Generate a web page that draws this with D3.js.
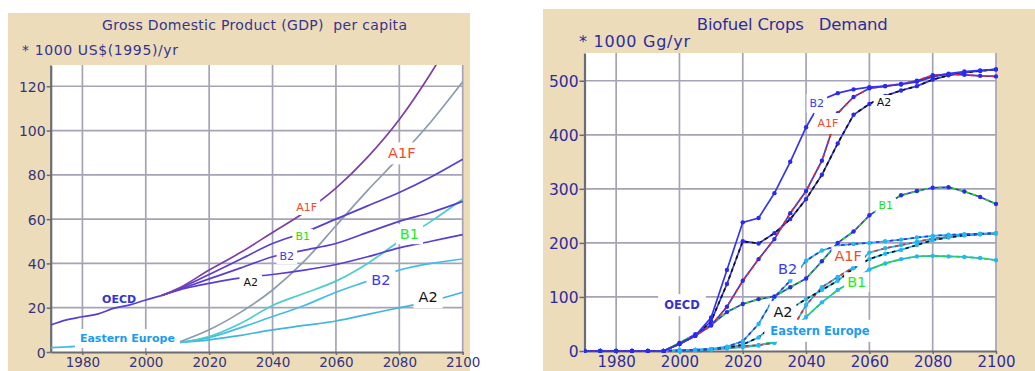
<!DOCTYPE html>
<html><head><meta charset="utf-8">
<script src="https://cdn.jsdelivr.net/npm/d3@7"></script>
<style>
body{margin:0;background:#fff}
svg{display:block}
text{font-family:"DejaVu Sans",Verdana,sans-serif}
</style>
</head><body>
<svg id="chart" width="1035" height="371"></svg>
<script>
// ---------- GDP per capita (1000 US$(1995)/yr) ----------
const gdpHistYears = [1970, 1975, 1980, 1985, 1990, 1995, 2000, 2005];
const oecdGdpHist = [12.2, 14.5, 15.9, 17.2, 19.8, 21.3, 23.5, 25.5];
const oecdScenYears = [2005, 2010, 2020, 2030, 2040, 2050, 2060, 2070, 2080, 2090, 2100];
const oecdGdpA1F = [25.5, 28.5, 37, 45, 54, 63, 74, 88, 105, 126, 150];
const oecdGdpB1  = [25.5, 28.3, 35, 42, 49, 54, 60, 66, 72, 79, 87];
const oecdGdpB2  = [25.5, 28.0, 33, 38, 43, 46, 49, 54, 59, 63, 68];
const oecdGdpA2  = [25.5, 27.8, 31, 33.5, 35, 37, 39.5, 43, 47, 50, 53];

const eeHistYears = [1970, 1975, 1980, 1985, 1990, 1995, 2000, 2005, 2010];
const eeGdpHist = [2.0, 2.3, 2.8, 3.2, 3.0, 2.8, 3.0, 3.5, 4.2];
const eeScenYears = [2010, 2020, 2030, 2040, 2050, 2060, 2070, 2080, 2090, 2100];
const eeGdpA1F = [4.2, 10, 18, 28, 41, 57, 73, 88, 104, 122];
const eeGdpB1  = [4.2, 7, 13, 21, 26.5, 32, 40, 50, 59, 69];
const eeGdpB2  = [4.2, 6.5, 11, 16, 21, 27, 32, 37, 40, 42];
const eeGdpA2  = [4.2, 5.5, 7.5, 10, 12, 14, 17, 20, 23, 27];

const gdpYTicks = [0, 20, 40, 60, 80, 100, 120];
const xTicks = [1980, 2000, 2020, 2040, 2060, 2080, 2100];

// ---------- Biofuel crops demand (1000 Gg/yr), 5-year steps ----------
const bioYears = d3.range(1970, 2101, 5);
const oecdBioB2  = [0,0,0,0,0,0, 13, 28, 62, 150, 238, 246, 292, 350, 414, 465, 477, 484, 488, 490, 493, 498, 507, 513, 517, 519, 521];
const oecdBioA1F = [0,0,0,0,0,0, 13, 28, 47, 82, 130, 170, 207, 255, 296, 352, 440, 470, 486, 490, 494, 500, 510, 512, 511, 509, 508];
const oecdBioA2  = [0,0,0,0,0,0, 13, 28, 55, 124, 203, 199, 218, 244, 281, 326, 384, 437, 457, 472, 482, 490, 502, 510, 515, 518, 521];
const oecdBioB1  = [0,0,0,0,0,0, 15, 31, 48, 72, 87, 96, 101, 118, 134, 166, 200, 221, 251, 270, 288, 296, 302, 303, 295, 285, 272];
const eeBioB2  = [0,0,0,0,0,0, 1, 2, 4, 8, 18, 50, 100, 130, 167, 186, 195, 198, 200, 203, 206, 210, 213, 215, 216, 217, 218];
const eeBioA2  = [0,0,0,0,0,0, 1, 2, 3, 6, 12, 25, 50, 78, 96, 113, 130, 153, 170, 180, 187, 196, 205, 210, 214, 216, 218];
const eeBioA1F = [0,0,0,0,0,0, 1, 2, 3, 5, 9, 11, 15, 35, 85, 118, 137, 155, 182, 190, 196, 202, 208, 211, 214, 216, 217];
const eeBioB1  = [0,0,0,0,0,0, 1, 2, 3, 5, 7, 10, 18, 35, 63, 90, 113, 130, 151, 162, 170, 175, 176, 175, 174, 172, 168];
const bioYTicks = [0, 100, 200, 300, 400, 500];

const scenColor = {A1F: "#ee2a1e", A2: "#111111", B1: "#22dd22", B2: "#3434ee"};
const regionColor = {OECD: "#3434ee", EE: "#22b4ee"};

const svg = d3.select("#chart");
const zip = (xs, ys) => xs.map((x, i) => [x, ys[i]]);

function panel(o) {
  const g = svg.append("g");
  g.append("rect").attr("x", o.bg[0]).attr("y", o.bg[1]).attr("width", o.bg[2]).attr("height", o.bg[3]).attr("fill", "#eddcb9");
  const x = d3.scaleLinear().domain([1970, 2100]).range([o.left, o.right]);
  const y = d3.scaleLinear().domain([0, o.ymax]).range([o.bottom, o.top]);
  g.append("rect").attr("x", o.left).attr("y", o.top).attr("width", o.right - o.left).attr("height", o.bottom - o.top).attr("fill", "#fff");
  // grid
  const grid = g.append("g").attr("stroke", "#a4a4b6").attr("stroke-width", 1.7);
  grid.selectAll("line.v").data(xTicks).join("line")
    .attr("x1", d => x(d)).attr("x2", d => x(d)).attr("y1", o.top).attr("y2", o.bottom);
  grid.selectAll("line.h").data(o.yTicks.filter(d => d > 0)).join("line")
    .attr("x1", o.left).attr("x2", o.right).attr("y1", d => y(d)).attr("y2", d => y(d));
  // axes
  const ya = g.append("g").attr("transform", `translate(${o.left},0)`)
    .call(d3.axisLeft(y).tickValues(o.yTicks).tickSize(o.tick).tickPadding(o.pad).tickSizeOuter(0));
  const xa = g.append("g").attr("transform", `translate(0,${o.bottom})`)
    .call(d3.axisBottom(x).tickValues(xTicks).tickFormat(d3.format("d")).tickSize(3).tickSizeOuter(0));
  [ya, xa].forEach(a => {
    a.select(".domain").attr("stroke", "#6b6b74").attr("stroke-width", 2.2);
    a.selectAll(".tick line").attr("stroke", "#6b6b74").attr("stroke-width", 1.5);
    a.selectAll("text").attr("fill", o.tickColor).attr("font-size", o.tickSize)
      .attr("font-family", '"DejaVu Sans",Verdana,sans-serif');
  });
  xa.selectAll("text").attr("dy", null).attr("y", o.xLabelY).attr("font-size", o.xTickSize);
  ya.selectAll("text").attr("dy", "0.36em");
  // titles
  g.append("text").attr("x", o.titleX).attr("y", 30).attr("text-anchor", "middle")
    .style("white-space", "pre").attr("xml:space", "preserve")
    .attr("fill", o.titleColor).attr("font-size", o.titleSize).attr("textLength", o.titleLen)
    .text(o.title);
  g.append("text").attr("x", o.unitX).attr("y", o.unitY).attr("fill", o.titleColor)
    .attr("font-size", o.unitSize).attr("textLength", o.unitLen).text(o.unit);
  // clip region for series
  const cid = "clip" + o.id;
  svg.append("clipPath").attr("id", cid).append("rect")
    .attr("x", o.left).attr("y", o.top).attr("width", o.right - o.left + 2).attr("height", o.bottom - o.top + 2);
  const series = g.append("g").attr("clip-path", `url(#${cid})`);
  return {g, x, y, series};
}

function addLabels(p, list) {
  const lg = p.g.append("g");
  list.forEach(l => {
    const wrap = lg.append("g");
    const rect = wrap.append("rect").attr("fill", "#fff");
    const t = wrap.append("text").attr("x", p.x(l.at[0])).attr("y", p.y(l.at[1]))
      .attr("text-anchor", "middle").attr("dy", "0.36em")
      .attr("font-family", '"Liberation Sans",Arial,sans-serif')
      .attr("font-size", l.size).attr("font-weight", l.bold ? "bold" : "normal")
      .attr("fill", l.color).text(l.text);
    if (l.box !== false) {
      const b = t.node().getBBox();
      const px = l.padX == null ? 4 : l.padX, py = l.padY == null ? 1 : l.padY;
      rect.attr("x", b.x - px).attr("y", b.y - py).attr("width", b.width + 2 * px).attr("height", b.height + 2 * py);
    } else rect.remove();
  });
}

// ---------------- left panel: GDP ----------------
const L = panel({
  id: "gdp", bg: [8, 13, 462, 358], left: 50.7, right: 462.7, top: 65, bottom: 352, ymax: 129.6,
  yTicks: gdpYTicks, tick: 4, pad: 1, tickColor: "#34347e", tickSize: 14, xTickSize: 13.5, xLabelY: 15,
  title: "Gross Domestic Product (GDP)  per capita", titleX: 254.5, titleSize: 14, titleLen: 305, titleColor: "#343490",
  unit: "* 1000 US$(1995)/yr", unitX: 22, unitY: 55, unitSize: 14, unitLen: 156
});
const gdpLine = d3.line().x(d => L.x(d[0])).y(d => L.y(d[1])).curve(d3.curveMonotoneX);
const gdpSeries = [
  {years: eeHistYears, vals: eeGdpHist, color: "#3fbfe8"},
  {years: eeScenYears, vals: eeGdpA2, color: "#40b6dc"},
  {years: eeScenYears, vals: eeGdpB2, color: "#44bde6"},
  {years: eeScenYears, vals: eeGdpB1, color: "#4ccccc"},
  {years: eeScenYears, vals: eeGdpA1F, color: "#8a9cae"},
  {years: gdpHistYears, vals: oecdGdpHist, color: "#5a3ed0"},
  {years: oecdScenYears, vals: oecdGdpA2, color: "#5a3ed0"},
  {years: oecdScenYears, vals: oecdGdpB2, color: "#5a3ed0"},
  {years: oecdScenYears, vals: oecdGdpB1, color: "#5a3ed0"},
  {years: oecdScenYears, vals: oecdGdpA1F, color: "#7e3ea6"}
];
gdpSeries.forEach(s => {
  L.series.append("path").attr("d", gdpLine(zip(s.years, s.vals)))
    .attr("fill", "none").attr("stroke", s.color).attr("stroke-width", 1.7);
});
addLabels(L, [
  {text: "A1F", at: [2050.8, 65.5], size: 11, color: "#f24a2a", padX: 3},
  {text: "B1", at: [2049.5, 52.4], size: 11, color: "#22dd22", padX: 3},
  {text: "B2", at: [2044.5, 43.3], size: 11, color: "#3a3aee", padX: 3},
  {text: "A2", at: [2033.1, 31.6], size: 11, color: "#111", padX: 4},
  {text: "OECD", at: [1991.6, 24.0], size: 11, color: "#3434d0", bold: true, box: false},
  {text: "Eastern Europe", at: [1994.2, 6.3], size: 11, color: "#1a9cf2", bold: true, padX: 5, padY: 3},
  {text: "A1F", at: [2080.8, 89.8], size: 14.5, color: "#f24a2a", padX: 5, padY: 3},
  {text: "B1", at: [2083.2, 53.3], size: 14.5, color: "#22ee22", padX: 4, padY: 2},
  {text: "B2", at: [2074.2, 32.5], size: 14.5, color: "#3a3aee", padX: 5, padY: 2},
  {text: "A2", at: [2089.1, 24.8], size: 14.5, color: "#111", padX: 5, padY: 3}
]);

// ---------------- right panel: biofuel crops ----------------
const R = panel({
  id: "bio", bg: [543, 9, 492, 362], left: 584.5, right: 996, top: 53, bottom: 351, ymax: 551.3,
  yTicks: bioYTicks, tick: 5, pad: 1, tickColor: "#2c2ca4", tickSize: 15.5, xTickSize: 15, xLabelY: 16,
  title: "Biofuel Crops   Demand", titleX: 792.3, titleSize: 16.5, titleLen: 191, titleColor: "#2c2ca4",
  unit: "* 1000 Gg/yr", unitX: 579, unitY: 47, unitSize: 16, unitLen: 111
});
const bioLine = d3.line().x(d => R.x(d[0])).y(d => R.y(d[1]));
const bioSeries = [
  {vals: eeBioB1, region: "EE", scen: "B1"},
  {vals: eeBioA1F, region: "EE", scen: "A1F"},
  {vals: eeBioA2, region: "EE", scen: "A2"},
  {vals: eeBioB2, region: "EE", scen: "B2"},
  {vals: oecdBioB1, region: "OECD", scen: "B1"},
  {vals: oecdBioA2, region: "OECD", scen: "A2"},
  {vals: oecdBioA1F, region: "OECD", scen: "A1F"},
  {vals: oecdBioB2, region: "OECD", scen: "B2"}
];
bioSeries.forEach(s => {
  const pts = zip(bioYears, s.vals);
  const d = bioLine(pts);
  R.series.append("path").attr("d", d).attr("fill", "none")
    .attr("stroke", regionColor[s.region]).attr("stroke-width", 1.7);
  if (!(s.region === "OECD" && s.scen === "B2")) {
    R.series.append("path").attr("d", d).attr("fill", "none")
      .attr("stroke", scenColor[s.scen]).attr("stroke-width", 1.7).attr("stroke-dasharray", "3.5,3.5");
  }
  R.series.append("g").selectAll("circle").data(pts).join("circle")
    .attr("cx", p => R.x(p[0])).attr("cy", p => R.y(p[1])).attr("r", 2.2)
    .attr("fill", s.region === "OECD" ? "#2a2aee" : "#22b8f0");
});
addLabels(R, [
  {text: "B2", at: [2043.4, 458.8], size: 11, color: "#3a3aee", padX: 3, padY: 3},
  {text: "A1F", at: [2046.9, 421.8], size: 11, color: "#f24a2a", padX: 3, padY: 4},
  {text: "A2", at: [2064.6, 460.6], size: 11, color: "#111", padX: 3},
  {text: "B1", at: [2065.2, 270], size: 11, color: "#22dd22", padX: 3},
  {text: "OECD", at: [2000.8, 85.1], size: 11.5, color: "#3434d0", bold: true, padX: 6, padY: 4},
  {text: "Eastern Europe", at: [2044.4, 37.6], size: 11.5, color: "#1a9cf2", bold: true, padX: 6, padY: 4},
  {text: "A1F", at: [2053.3, 175.7], size: 14.5, color: "#f24a2a", padX: 3, padY: 2},
  {text: "B2", at: [2034.2, 151.7], size: 14.5, color: "#3a3aee", padX: 4, padY: 2},
  {text: "B1", at: [2056.0, 127.6], size: 14.5, color: "#22ee22", padX: 3, padY: 2},
  {text: "A2", at: [2032.7, 72.1], size: 14.5, color: "#111", padX: 4, padY: 3}
]);
</script>
</body></html>
